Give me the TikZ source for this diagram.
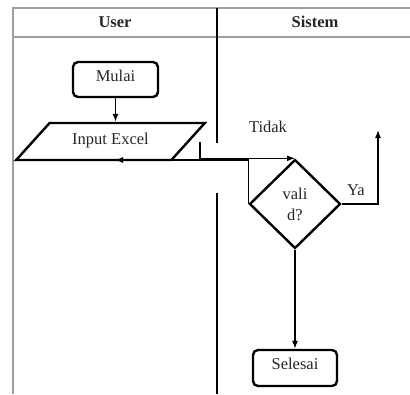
\documentclass[tikz,border=0pt]{standalone}
\usepackage{fontspec}
\setmainfont{Liberation Serif}
\usetikzlibrary{arrows, arrows.meta, shapes.geometric}

\begin{document}
\begin{tikzpicture}
	[%
	x=1pt, y=-1pt, >={Latex[length=8pt,width=6pt]},%
	every node/.style={font=\fontsize{16.5}{21}\selectfont, text=black!85},%
	terminal/.style={rectangle,	rounded corners=5pt,	draw=black,	line width=2.4pt,	inner sep=0pt,	minimum width=85pt,	minimum height=35pt,	text height=11pt,	text depth=8pt},%
	inout/.style   ={trapezium,	trapezium left angle=39,	trapezium right angle=141,	trapezium stretches=true,	draw=black,	line width=2.4pt,	inner sep=0pt,	minimum width=189pt,	minimum height=37pt,	text height=11pt,	text depth=6pt},%
	decision/.style={diamond,	draw=black,	line width=2.4pt,	inner sep=0pt,	minimum width=91pt,	minimum height=89pt,	align=center},%
	header/.style  ={font=\fontsize{16.5}{21}\selectfont\bfseries},%
	flow/.style    ={line width=1.2pt},%
	lane/.style    ={draw=gray!75,	line width=2pt},%
	]

	\newcommand\laneleft{13}
	\newcommand{\laneright}{410}

	\useasboundingbox (0,0) rectangle (410,394);

	% swimlanes
	\draw [lane] (\laneright,8) -- (\laneleft,8) -- (\laneleft,394);
	\draw [lane] (\laneleft,37) -- (\laneright,37);
	\draw [line width=1.1pt] (217,8) -- (217,143);
	\draw [line width=1.1pt] (217,193) -- (217,394);

	\node (user)   at (115,22) [header] {User};
	\node (sistem) at (315,22) [header] {Sistem};

	% nodes
	\node (mulai)   at (115.5,79.5) [terminal] {Mulai};
	\node (input)   at (110.5,141.5) [inout] {Input Excel};
	\node (valid)   at (295,204) [decision] {vali\\d?};
	\node (selesai) at (295,368) [terminal, minimum width=84pt, minimum height=36pt] {Selesai};

	\node (tidak) at (268,127) {Tidak};
	\node (ya)    at (356,190) {Ya};

	\coordinate (stub) at (200,142);
	\coordinate (back) at (115,160);
	\coordinate (yes)  at (378,130);

	% interconnections
	\draw [flow, ->] (mulai) -- (mulai |- input.north);
	\draw [flow, ->] (stub) |- (valid.north);
	\draw [flow, ->] (valid.west) |- (back);
	\draw [flow, ->] (valid.east) -| (yes);
	\draw [flow, ->] (valid.south) -- (selesai.north);

\end{tikzpicture}
\end{document}
